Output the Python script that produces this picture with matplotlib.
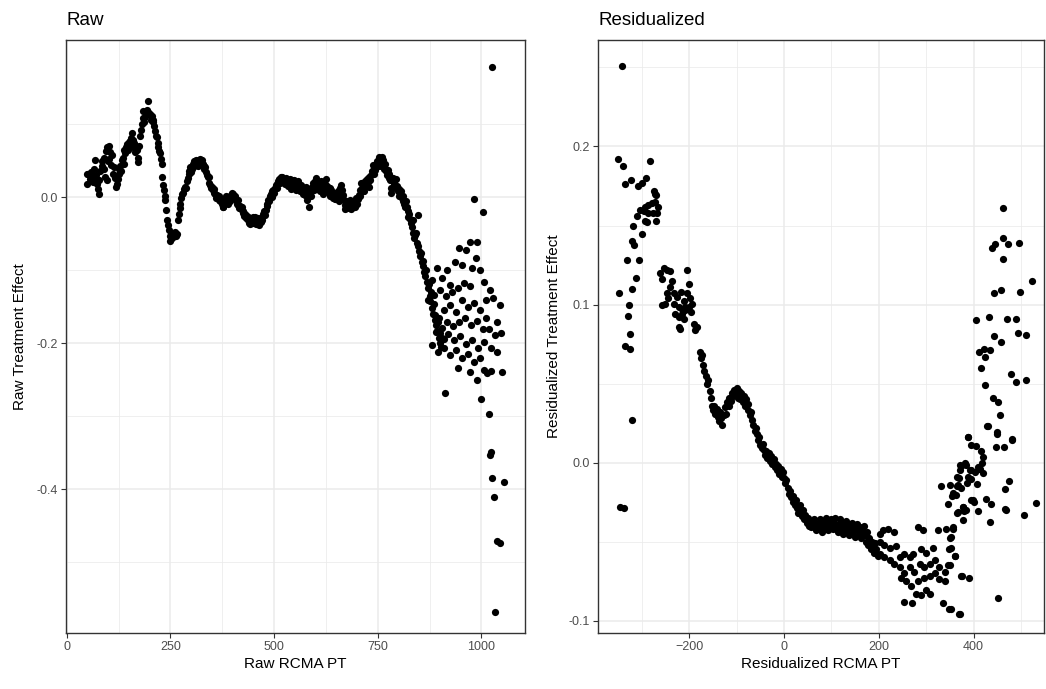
import matplotlib
matplotlib.use("Agg")
import matplotlib.pyplot as plt

plt.rcParams['font.family'] = ['Liberation Sans', 'DejaVu Sans']

# raw panel: (RCMA PT, treatment effect)
raw_pts = [
    (48, 0.018), (50, 0.032), (52, 0.031), (55, 0.024), (58, 0.034), (60, 0.029), (63, 0.021), (65, 0.027),
    (67, 0.038), (69, 0.050), (71, 0.030), (73, 0.018), (75, 0.011), (77, 0.004), (79, 0.023), (81, 0.036),
    (84, 0.043), (86, 0.049), (89, 0.054), (91, 0.039), (93, 0.027), (95, 0.063), (97, 0.068), (97, 0.023),
    (99, 0.049), (101, 0.070), (103, 0.052), (105, 0.062), (107, 0.044), (109, 0.057), (111, 0.032), (113, 0.041),
    (116, 0.026), (118, 0.014), (121, 0.018), (123, 0.024), (125, 0.031), (127, 0.038), (129, 0.043), (131, 0.035),
    (133, 0.050), (135, 0.054), (137, 0.045), (139, 0.065), (141, 0.060), (143, 0.068), (145, 0.073), (147, 0.064),
    (149, 0.076), (151, 0.069), (153, 0.077), (155, 0.081), (157, 0.087), (159, 0.078), (161, 0.068), (163, 0.074),
    (165, 0.061), (167, 0.065), (169, 0.064), (171, 0.054), (173, 0.048), (175, 0.070), (177, 0.084), (179, 0.092),
    (181, 0.100), (183, 0.108), (185, 0.118), (187, 0.103), (189, 0.109), (191, 0.115), (193, 0.119), (195, 0.131),
    (197, 0.117), (199, 0.113), (201, 0.114), (203, 0.106), (205, 0.111), (207, 0.103), (209, 0.105), (211, 0.097),
    (213, 0.091), (215, 0.084), (217, 0.082), (219, 0.074), (221, 0.068), (223, 0.063), (225, 0.060), (227, 0.052),
    (229, 0.045), (230, 0.027), (232, 0.016), (234, 0.009), (236, 0.001), (238, -0.004), (240, -0.018), (242, -0.031),
    (244, -0.039), (246, -0.045), (248, -0.054), (250, -0.060), (252, -0.051), (254, -0.056), (256, -0.049), (258, -0.054),
    (260, -0.052), (262, -0.048), (264, -0.053), (266, -0.050), (268, -0.032), (270, -0.023), (272, -0.015), (274, -0.009),
    (276, -0.002), (278, 0.004), (280, 0.006), (283, 0.011), (286, 0.014), (288, 0.012), (290, 0.022), (292, 0.026),
    (294, 0.031), (296, 0.036), (298, 0.041), (300, 0.034), (302, 0.039), (304, 0.045), (306, 0.043), (308, 0.049),
    (310, 0.044), (312, 0.051), (314, 0.048), (316, 0.042), (318, 0.051), (320, 0.047), (322, 0.052), (324, 0.049),
    (326, 0.050), (328, 0.045), (330, 0.043), (332, 0.039), (334, 0.041), (336, 0.034), (338, 0.030), (340, 0.027),
    (342, 0.027), (344, 0.019), (346, 0.016), (348, 0.013), (350, 0.014), (352, 0.009), (354, 0.006), (356, 0.011),
    (358, 0.004), (360, -0.002), (362, 0.003), (364, -0.001), (366, -0.004), (368, 0.002), (370, -0.006), (372, -0.003),
    (374, -0.010), (376, -0.013), (378, -0.014), (380, -0.008), (382, -0.004), (384, 0.002), (386, 0.000), (388, -0.003),
    (390, -0.010), (392, -0.001), (394, -0.005), (396, 0.003), (398, 0.006), (400, 0.001), (402, 0.004), (404, -0.002),
    (406, 0.002), (408, -0.004), (410, -0.009), (412, -0.004), (414, -0.011), (416, -0.015), (418, -0.012), (420, -0.017),
    (422, -0.014), (424, -0.022), (426, -0.019), (428, -0.026), (430, -0.023), (432, -0.029), (434, -0.026), (436, -0.032),
    (438, -0.028), (440, -0.035), (442, -0.037), (444, -0.030), (446, -0.034), (448, -0.027), (450, -0.036), (452, -0.031),
    (454, -0.028), (456, -0.037), (458, -0.032), (460, -0.035), (462, -0.029), (464, -0.038), (466, -0.031), (468, -0.034),
    (470, -0.027), (472, -0.031), (474, -0.023), (476, -0.019), (478, -0.025), (480, -0.018), (482, -0.012), (484, -0.009),
    (486, -0.004), (488, -0.006), (490, 0.001), (492, 0.004), (494, 0.000), (496, 0.008), (498, 0.009), (500, 0.005),
    (502, 0.013), (504, 0.017), (506, 0.012), (508, 0.018), (510, 0.022), (512, 0.024), (514, 0.019), (516, 0.027),
    (518, 0.023), (520, 0.027), (522, 0.021), (524, 0.025), (526, 0.018), (528, 0.026), (530, 0.022), (532, 0.025),
    (534, 0.015), (536, 0.021), (538, 0.024), (540, 0.011), (542, 0.018), (544, 0.023), (546, 0.014), (548, 0.023),
    (550, 0.016), (552, 0.010), (554, 0.018), (556, 0.013), (558, 0.022), (560, 0.014), (562, 0.008), (564, 0.017),
    (566, 0.010), (568, 0.010), (570, 0.004), (572, 0.009), (574, 0.003), (576, 0.003), (578, 0.014), (580, -0.004),
    (582, 0.009), (584, -0.013), (586, 0.006), (588, 0.002), (590, 0.011), (592, 0.014), (594, 0.019), (596, 0.009),
    (598, 0.022), (600, 0.026), (602, 0.016), (604, 0.011), (606, 0.017), (608, 0.021), (610, 0.008), (612, 0.015),
    (614, 0.022), (616, 0.012), (618, 0.004), (620, 0.019), (622, 0.011), (624, 0.024), (626, 0.017), (628, 0.009),
    (630, 0.014), (632, 0.005), (634, 0.012), (636, 0.002), (638, 0.010), (640, 0.003), (642, -0.002), (644, 0.006),
    (646, -0.003), (648, 0.001), (650, -0.003), (652, 0.004), (654, 0.008), (656, -0.006), (658, 0.012), (660, 0.002),
    (662, 0.017), (664, 0.010), (666, 0.003), (668, -0.004), (670, -0.017), (672, -0.011), (674, -0.006), (676, -0.013),
    (678, -0.009), (680, -0.015), (682, -0.004), (684, -0.011), (686, -0.017), (688, -0.010), (690, -0.013), (692, -0.005),
    (694, -0.013), (696, -0.008), (698, -0.002), (700, -0.009), (702, -0.003), (704, 0.003), (706, 0.001), (708, 0.010),
    (710, 0.019), (712, 0.013), (714, 0.008), (716, 0.015), (718, 0.008), (720, 0.022), (722, 0.017), (724, 0.024),
    (726, 0.021), (728, 0.027), (730, 0.014), (732, 0.023), (734, 0.030), (736, 0.036), (738, 0.044), (740, 0.039),
    (742, 0.032), (744, 0.037), (746, 0.041), (748, 0.049), (750, 0.043), (752, 0.051), (754, 0.055), (756, 0.048),
    (758, 0.042), (760, 0.055), (762, 0.050), (764, 0.042), (766, 0.038), (768, 0.045), (770, 0.035), (772, 0.030),
    (774, 0.037), (776, 0.026), (778, 0.032), (780, 0.023), (782, 0.013), (783, 0.005), (786, 0.026), (788, 0.018),
    (790, 0.022), (792, 0.013), (794, 0.024), (796, 0.015), (798, 0.008), (800, 0.001), (802, 0.011), (804, 0.004),
    (806, 0.008), (808, -0.002), (810, -0.006), (812, 0.001), (814, -0.009), (816, -0.013), (818, -0.005), (820, -0.013),
    (822, -0.019), (824, -0.028), (826, -0.023), (828, -0.030), (830, -0.036), (832, -0.041), (834, -0.032), (836, -0.049),
    (838, -0.056), (840, -0.052), (842, -0.049), (844, -0.063), (846, -0.025), (848, -0.067), (850, -0.074), (852, -0.081),
    (854, -0.076), (856, -0.089), (858, -0.095), (860, -0.087), (862, -0.103), (864, -0.108), (866, -0.100), (868, -0.117),
    (871, -0.124), (873, -0.119), (875, -0.135), (877, -0.143), (879, -0.130), (881, -0.152), (883, -0.160), (885, -0.146),
    (887, -0.168), (889, -0.162), (891, -0.175), (893, -0.184), (895, -0.171), (897, -0.193), (899, -0.200), (901, -0.186),
    (903, -0.206), (906, -0.179), (909, -0.195),
    # scattered tail
    (946, -0.070), (963, -0.073), (972, -0.062), (990, -0.062), (953, -0.093), (936, -0.089), (917, -0.100),
    (977, -0.097), (997, -0.100), (987, -0.084), (924, -0.121), (905, -0.111), (893, -0.097), (881, -0.114),
    (871, -0.141), (886, -0.134), (900, -0.127), (915, -0.136), (929, -0.130), (944, -0.125), (958, -0.118),
    (972, -0.122), (1006, -0.116), (1020, -0.127), (1011, -0.141), (1028, -0.138), (1045, -0.148), (910, -0.155),
    (924, -0.148), (939, -0.158), (953, -0.141), (968, -0.151), (982, -0.145), (997, -0.155), (1011, -0.166),
    (898, -0.166), (917, -0.171), (932, -0.177), (946, -0.171), (960, -0.166), (975, -0.175), (990, -0.170),
    (1004, -0.181), (1018, -0.181), (1033, -0.189), (1048, -0.186), (1038, -0.171), (891, -0.185), (905, -0.193),
    (920, -0.188), (934, -0.196), (948, -0.190), (963, -0.201), (977, -0.196), (992, -0.207), (1006, -0.199),
    (881, -0.203), (896, -0.212), (910, -0.207), (924, -0.216), (939, -0.210), (953, -0.221), (968, -0.215),
    (982, -0.226), (997, -0.221), (1023, -0.207), (1038, -0.212),
    (912, -0.268), (1006, -0.237), (1013, -0.241), (1023, -0.238), (1050, -0.240), (999, -0.277), (1018, -0.297),
    (990, -0.251), (972, -0.240), (944, -0.234),
    (1023, -0.349), (1020, -0.353), (1025, -0.385), (1030, -0.411), (1038, -0.471), (1045, -0.474), (1033, -0.568),
    (1055, -0.390), (982, -0.003), (1004, -0.021), (1025, 0.178),
]

# residualized panel
res_pts = [
    (-341, 0.251), (-351, 0.192), (-339, 0.1875), (-282, 0.1906), (-335, 0.176), (-323, 0.179), (-308.5, 0.175),
    (-300, 0.177), (-291, 0.180), (-275, 0.172), (-272, 0.170), (-270, 0.169), (-293, 0.162), (-286, 0.163),
    (-279, 0.1645), (-272, 0.165), (-266, 0.162), (-303, 0.160), (-296, 0.159), (-286, 0.158), (-277, 0.158),
    (-268, 0.158), (-311, 0.156), (-293, 0.153), (-288, 0.152), (-270, 0.153), (-318, 0.150), (-300, 0.1447),
    (-321, 0.140), (-315.5, 0.1375), (-332, 0.128), (-306, 0.128), (-312, 0.1166), (-320, 0.110), (-348, 0.1074),
    (-328, 0.100), (-330, 0.0926), (-325, 0.0815), (-335, 0.074), (-325, 0.072), (-321, 0.027), (-345, -0.028),
    (-338, -0.029),
    (-254, 0.123), (-247, 0.122), (-240, 0.121), (-261, 0.120), (-258, 0.116), (-240, 0.111), (-247, 0.107),
    (-233, 0.107), (-226, 0.1045), (-233, 0.1006), (-222, 0.0985), (-215, 0.0974), (-208, 0.0985), (-229, 0.0943),
    (-222, 0.092), (-215, 0.0943), (-208, 0.0964), (-201, 0.0985), (-194, 0.1006), (-205, 0.107), (-201, 0.113),
    (-205, 0.122), (-222, 0.0857), (-219, 0.0847), (-190, 0.0879), (-187, 0.0836), (-183, 0.0857), (-258, 0.0996),
    (-250, 0.1006), (-212, 0.102), (-198, 0.104), (-236, 0.115), (-244, 0.104), (-218, 0.108), (-210, 0.091),
    (-196, 0.095),
    (-178, 0.070), (-176, 0.066), (-173, 0.068), (-170, 0.062), (-168, 0.058), (-165, 0.055), (-162, 0.050),
    (-160, 0.052), (-157, 0.045), (-155, 0.041), (-152, 0.036), (-150, 0.033), (-147, 0.036), (-145, 0.031),
    (-142, 0.034), (-140, 0.029), (-137, 0.026), (-135, 0.032), (-132, 0.028), (-130, 0.024), (-127, 0.030),
    (-125, 0.035), (-122, 0.031), (-120, 0.038), (-117, 0.036), (-115, 0.041), (-112, 0.039), (-110, 0.044),
    (-107, 0.042), (-105, 0.046), (-102, 0.043), (-100, 0.047), (-97, 0.041), (-95, 0.045), (-92, 0.040),
    (-90, 0.044), (-87, 0.038), (-85, 0.042), (-82, 0.036), (-80, 0.040), (-77, 0.033), (-75, 0.037),
    (-72, 0.030), (-70, 0.032), (-67, 0.027), (-65, 0.024), (-62, 0.020), (-60, 0.022), (-57, 0.018),
    (-55, 0.014), (-52, 0.016), (-50, 0.011), (-47, 0.009), (-45, 0.012), (-42, 0.008), (-40, 0.005),
    (-37, 0.007), (-35, 0.003), (-32, 0.006), (-30, 0.001), (-27, 0.004), (-25, -0.001), (-22, 0.002),
    (-20, -0.003), (-17, -0.001), (-15, -0.005), (-12, -0.002), (-10, -0.007), (-7, -0.004), (-5, -0.009),
    (-2, -0.006), (0, -0.010), (3, -0.013), (5, -0.011), (8, -0.016), (10, -0.020), (13, -0.018), (15, -0.022),
    (18, -0.025), (20, -0.021), (23, -0.027), (25, -0.024), (28, -0.029), (30, -0.032), (33, -0.027),
    (35, -0.031), (38, -0.034), (40, -0.030), (43, -0.036), (45, -0.033), (48, -0.038), (50, -0.035),
    (53, -0.040), (55, -0.037), (58, -0.041), (60, -0.038), (63, -0.036), (65, -0.040), (68, -0.043),
    (70, -0.039), (73, -0.042), (75, -0.036), (78, -0.040), (80, -0.044), (83, -0.038), (85, -0.041),
    (88, -0.035), (90, -0.039), (93, -0.043), (95, -0.037), (98, -0.040), (100, -0.036), (103, -0.042),
    (105, -0.038), (108, -0.035), (110, -0.040), (113, -0.044), (115, -0.039), (118, -0.036), (120, -0.042),
    (123, -0.038), (125, -0.045), (128, -0.040), (130, -0.037), (133, -0.043), (135, -0.039), (138, -0.046),
    (140, -0.041), (143, -0.038), (145, -0.044), (148, -0.040), (150, -0.047), (153, -0.042), (155, -0.039),
    (158, -0.045), (160, -0.041), (163, -0.048), (165, -0.043), (168, -0.040), (170, -0.046), (173, -0.050),
    (175, -0.044), (178, -0.052), (180, -0.048), (183, -0.055), (185, -0.050), (188, -0.053), (190, -0.057),
    (193, -0.051), (195, -0.055), (198, -0.059),
    (202, -0.045), (209, -0.043), (219, -0.042), (233, -0.044), (202, -0.050), (212, -0.052), (223, -0.054),
    (237, -0.053), (202, -0.058), (212, -0.060), (223, -0.062), (233, -0.064), (244, -0.060), (254, -0.058),
    (265, -0.060), (272, -0.058), (244, -0.066), (254, -0.070), (265, -0.066), (275, -0.069), (286, -0.064),
    (296, -0.066), (307, -0.064), (318, -0.062), (328, -0.066), (339, -0.069), (247, -0.073), (258, -0.075),
    (268, -0.078), (282, -0.075), (296, -0.073), (307, -0.072), (318, -0.070), (328, -0.074), (339, -0.075),
    (279, -0.083), (289, -0.084), (300, -0.081), (307, -0.083), (254, -0.088), (270, -0.089), (335, -0.0886),
    (349, -0.093), (370, -0.096), (282, -0.041), (293, -0.043), (325, -0.043), (342, -0.042), (356, -0.042),
    (353, -0.047), (349, -0.055), (360, -0.059), (346, -0.065), (374, -0.072), (390, -0.073), (452, -0.086),
    (289, -0.055), (300, -0.057), (314, -0.054),
    (332, -0.015), (346, -0.026), (355, -0.021), (363, -0.0205), (366, -0.032), (377, -0.028), (380, -0.031),
    (378, -0.0365), (365, -0.015), (374, -0.016), (386, -0.013), (395, -0.0105), (369, -0.010), (372, -0.0017),
    (383, -0.0017), (393, -0.005), (402, -0.006), (409, -0.003), (407, -0.0137), (395, -0.024), (400, -0.025),
    (409, -0.031), (426, -0.023), (437, -0.026), (435, -0.0376), (467, -0.0295), (466, -0.017), (475, -0.012),
    (507, -0.033), (532, -0.0255), (388, 0.016), (395, 0.011), (405, 0.0105), (416, 0.0074), (419, 0.0032),
    (418, 0.0), (412, -0.004), (428, 0.023), (449, 0.018), (447, 0.0095), (465, 0.0095), (480, 0.014),
    (461, 0.161), (463, 0.142), (446, 0.138), (439, 0.136), (473, 0.138), (495, 0.139), (462, 0.129), (523, 0.115),
    (444, 0.107), (458, 0.109), (497, 0.108), (406, 0.090), (432, 0.092), (470, 0.091), (489, 0.091), (444, 0.080),
    (458, 0.076), (493, 0.082), (510, 0.081), (411, 0.070), (422, 0.072), (434, 0.071), (425, 0.067), (415, 0.060),
    (478, 0.056), (490, 0.051), (511, 0.052), (424, 0.049), (441, 0.041), (452, 0.038), (455, 0.030), (431, 0.023),
    (450, 0.019), (389, 0.016), (482, 0.015),
    (399, -0.024), (378, -0.028), (385, -0.030), (367, -0.0316), (469, -0.030), (357, -0.0405), (350, -0.048),
    (353, -0.054), (360, -0.059), (350, -0.065), (376, -0.0716), (353, -0.093), (371, -0.0956),
    (364, -0.009), (371, -0.005), (367, -0.014), (350, -0.014), (357, -0.019), (374, -0.002), (381, 0.0),
    (413, -0.004), (420, -0.0066), (395, -0.005), (388, -0.009),
]

raw_x = [p[0] for p in raw_pts]
raw_y = [p[1] for p in raw_pts]
res_x = [p[0] for p in res_pts]
res_y = [p[1] for p in res_pts]

W, H = 1046, 689
fig = plt.figure(figsize=(W / 100, H / 100), dpi=100)
ax1 = fig.add_axes([66 / W, 1 - 633 / H, (525 - 66) / W, (633 - 40) / H])
ax2 = fig.add_axes([598 / W, 1 - 633 / H, (1044 - 598) / W, (633 - 40) / H])


def style(ax, xmaj, xmin, ymaj, ymin, ylabels):
    ax.set_facecolor("white")
    ax.set_xticks(xmaj)
    ax.set_xticks(xmin, minor=True)
    ax.set_yticks(ymaj)
    ax.set_yticks(ymin, minor=True)
    ax.set_yticklabels(ylabels)
    ax.grid(which="major", color="#ebebeb", linewidth=1.1)
    ax.grid(which="minor", color="#ebebeb", linewidth=0.55)
    ax.set_axisbelow(True)
    for s in ax.spines.values():
        s.set_color("#333333")
        s.set_linewidth(1.0)
    ax.tick_params(which="major", length=3.5, width=0.8, color="#333333",
                   labelsize=9, labelcolor="#4d4d4d", pad=2.5)
    ax.tick_params(which="minor", length=0)


ax1.scatter(raw_x, raw_y, s=27, c="black", linewidths=0, zorder=3)
ax1.set_xlim(-1.7, 1105)
ax1.set_ylim(-0.597, 0.215)
style(ax1, [0, 250, 500, 750, 1000], [125, 375, 625, 875],
      [-0.4, -0.2, 0.0], [-0.5, -0.3, -0.1, 0.1], ["-0.4", "-0.2", "0.0"])
ax1.set_xlabel("Raw RCMA PT", fontsize=11, labelpad=3)
ax1.set_ylabel("Raw Treatment Effect", fontsize=11, labelpad=7)
ax1.set_title("Raw", loc="left", fontsize=13.5, pad=11)

ax2.scatter(res_x, res_y, s=27, c="black", linewidths=0, zorder=3)
ax2.set_xlim(-392.4, 548.5)
ax2.set_ylim(-0.1079, 0.2674)
style(ax2, [-200, 0, 200, 400], [-300, -100, 100, 300, 500],
      [-0.1, 0.0, 0.1, 0.2], [-0.05, 0.05, 0.15, 0.25], ["-0.1", "0.0", "0.1", "0.2"])
ax2.set_xlabel("Residualized RCMA PT", fontsize=11, labelpad=3)
ax2.set_ylabel("Residualized Treatment Effect", fontsize=11, labelpad=5.5)
ax2.set_title("Residualized", loc="left", fontsize=13.5, pad=11)

fig.savefig("out.png", dpi=100)
